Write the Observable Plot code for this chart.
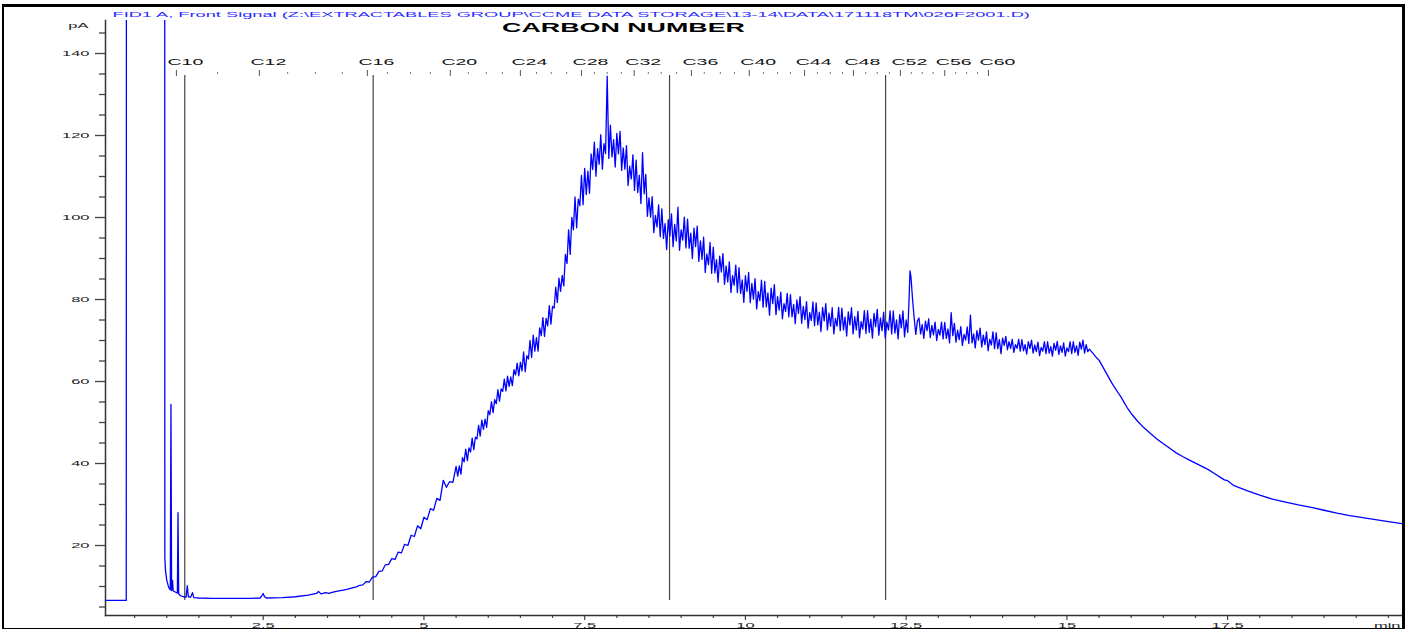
<!DOCTYPE html>
<html><head><meta charset="utf-8">
<script src="https://cdn.jsdelivr.net/npm/d3@7"></script>
<script src="https://cdn.jsdelivr.net/npm/@observablehq/plot@0.6"></script>
<style>
html,body{margin:0;padding:0;background:#fff;}
#wrap{position:relative;width:1408px;height:629px;overflow:hidden;background:#fff;}
#chart svg{display:block;}
#border{position:absolute;left:2px;top:4px;width:1403px;height:627px;box-sizing:border-box;border-style:solid;border-color:#000;border-width:3px 3px 3px 2px;pointer-events:none;}
</style></head><body>
<div id="wrap"><div id="chart"></div><div id="border"></div></div>
<script>
// ---- Data (minutes, pA) ----
const headerText = "FID1 A, Front Signal (Z:\\EXTRACTABLES GROUP\\CCME DATA STORAGE\\13-14\\DATA\\171118TM\\026F2001.D)";
const titleText = "CARBON NUMBER";
const yUnit = "pA";
const xUnit = "min";

const solventFront = [[0.05,6.6],[0.37,6.6],[0.375,400],[0.965,400],[0.97,17],[0.98,14],[1.0,11.5],[1.03,9.8],[1.055,9.2],[1.065,54.4],[1.075,9.0],[1.09,11.5],[1.10,8.9],[1.14,8.6],[1.165,8.4],[1.175,28],[1.185,8.2],[1.21,7.8],[1.26,7.5],[1.30,7.4],[1.32,10.2],[1.335,7.5],[1.37,7.4],[1.40,8.5],[1.42,7.3]];

const baseline = [[1.5,7.2],[1.7,7.1],[2.0,7.1],[2.3,7.1],[2.45,7.2],[2.48,7.8],[2.50,8.3],[2.52,7.5],[2.55,7.2],[2.8,7.3],[3.0,7.5],[3.2,7.9],[3.33,8.3],[3.36,8.8],[3.40,8.2],[3.47,8.5],[3.52,8.3],[3.6,8.7],[3.7,9.0],[3.8,9.3],[3.9,9.7],[3.95,9.9]];

const humpRise = [[4.00,10.3],[4.05,10.4],[4.10,11.2],[4.15,11.1],[4.20,12.3],[4.25,12.4],[4.30,13.7],[4.35,13.8],[4.40,15.3],[4.45,15.4],[4.50,16.8],[4.55,16.6],[4.60,18.4],[4.65,18.2],[4.70,20.3],[4.75,20.0],[4.80,22.5],[4.85,22.2],[4.90,24.8],[4.95,24.1],[5.00,26.9],[5.05,26.3],[5.10,29.0],[5.15,28.6],[5.20,31.5],[5.25,31.0],[5.30,35.9],[5.35,34.2],[5.40,35.6],[5.45,35.4],
[5.500,39.3],[5.525,36.9],[5.550,39.4],[5.575,37.4],[5.600,41.4],[5.625,40.4],[5.650,43.5],[5.675,40.7],[5.700,43.8],[5.725,42.8],[5.750,46.2],[5.775,43.4],[5.800,46.4],[5.825,46.0],[5.850,49.3],[5.875,46.7],[5.900,50.6],[5.925,48.3],[5.950,50.8],[5.975,48.8],[6.000,52.9],[6.025,51.9],[6.050,55.1],[6.075,52.4],[6.100,55.6],[6.125,54.6],[6.150,58.0],[6.175,55.2],[6.200,58.2],[6.225,57.6],[6.250,60.6],[6.275,57.7],[6.300,61.3],[6.325,58.8],[6.350,61.1],[6.375,59.0],[6.400,62.9],[6.425,61.6],[6.450,64.5],[6.475,61.4],[6.500,64.7],[6.525,62.6],[6.550,67.2],[6.575,62.4],[6.600,66.3],[6.625,65.5],[6.650,70.0],[6.675,65.9],[6.700,71.3],[6.725,67.4],[6.750,70.7],[6.775,67.4],[6.800,73.1],[6.825,71.2],[6.850,75.6],[6.875,71.0],[6.900,75.4],[6.925,73.6],[6.950,78.5],[6.975,74.0],[7.000,78.3],[7.025,77.9],[7.050,83.0],[7.075,79.3],[7.100,85.2],[7.125,82.0],[7.150,85.9],[7.175,83.3]];

const humpPeak = [[7.200,91.0],[7.225,88.8],[7.250,97.0],[7.275,91.0],[7.300,100.0],[7.325,97.0],[7.350,105.0],[7.375,97.5],[7.400,104.5],[7.425,102.9],[7.450,110.3],[7.475,103.1],[7.500,112.0],[7.525,105.6],[7.550,111.3],[7.575,105.9],[7.600,115.5],[7.625,111.7],[7.650,118.4],[7.675,110.1],[7.700,116.8],[7.725,113.0],[7.750,120.2],[7.775,111.8],[7.800,118.0],[7.825,115.6],[7.850,134.5],[7.875,114.4],[7.900,122.5],[7.925,114.8],[7.950,119.0],[7.975,112.3],[8.000,120.5],[8.025,115.5],[8.050,121.0],[8.075,111.5],[8.100,117.0],[8.125,111.8],[8.150,117.5],[8.175,107.8],[8.200,112.5],[8.225,109.4],[8.250,115.3],[8.275,106.6],[8.300,114.0],[8.325,106.1],[8.350,110.3],[8.375,103.4],[8.400,115.8],[8.425,105.8],[8.450,110.5],[8.475,100.3],[8.500,104.8],[8.525,100.1],[8.550,105.1],[8.575,96.3],[8.600,100.5],[8.625,97.7],[8.650,103.1],[8.675,95.3],[8.700,102.1],[8.725,94.9],[8.750,98.5],[8.775,92.2],[8.800,99.5],[8.825,95.5],[8.850,100.9],[8.875,92.9],[8.900,98.3],[8.925,94.3],[8.950,102.5],[8.975,92.0]];

const humpDecay = [[9.000,97.0],[9.025,94.5],[9.050,100.1],[9.075,92.6],[9.100,99.6],[9.125,92.5],[9.150,96.2],[9.175,90.0],[9.200,97.4],[9.225,92.9],[9.250,97.9],[9.275,89.3],[9.300,94.3],[9.325,89.8],[9.350,95.2],[9.375,86.6],[9.400,91.1],[9.425,88.5],[9.450,93.9],[9.475,86.4],[9.500,92.8],[9.525,86.5],[9.550,89.7],[9.575,84.2],[9.600,90.6],[9.625,86.7],[9.650,91.2],[9.675,83.7],[9.700,88.2],[9.725,84.3],[9.750,89.2],[9.775,81.7],[9.800,85.8],[9.825,83.5],[9.850,88.4],[9.875,81.7],[9.900,87.8],[9.925,81.5],[9.950,84.8],[9.975,79.3],[10.000,85.8],[10.025,82.0],[10.050,86.6],[10.075,79.2],[10.100,83.9],[10.125,80.1],[10.150,85.1],[10.175,77.7],[10.200,81.9],[10.225,79.7],[10.250,84.7],[10.275,78.1],[10.300,84.4],[10.325,78.2],[10.350,81.6],[10.375,76.2],[10.400,82.8],[10.425,79.0],[10.450,83.6],[10.475,76.3],[10.500,80.7],[10.525,77.4],[10.550,81.8],[10.575,75.3],[10.600,79.0],[10.625,77.1],[10.650,81.5],[10.675,75.8],[10.700,81.2],[10.725,75.8],[10.750,78.8],[10.775,74.1],[10.800,79.9],[10.825,76.6],[10.850,80.7],[10.875,74.2],[10.900,78.3],[10.925,75.1],[10.950,79.5],[10.975,73.0],[11.000,76.8],[11.025,74.9],[11.050,79.4],[11.075,73.6],[11.100,79.2],[11.125,73.8],[11.150,76.9],[11.175,72.2],[11.200,78.1],[11.225,74.8],[11.250,79.0],[11.275,72.6],[11.300,76.7],[11.325,73.5],[11.350,78.0],[11.375,71.6],[11.400,75.4],[11.425,73.5],[11.450,78.1],[11.475,72.4],[11.500,77.9],[11.525,72.6],[11.550,75.7],[11.575,71.1],[11.600,77.0],[11.625,73.8],[11.650,78.0],[11.675,71.6],[11.700,75.8],[11.725,72.6],[11.750,77.1],[11.775,70.7],[11.800,74.6],[11.825,72.8],[11.850,77.3],[11.875,71.7],[11.900,77.3],[11.925,72.0],[11.950,75.2],[11.975,70.6],[12.000,76.6],[12.025,73.4],[12.050,77.6],[12.075,71.3],[12.100,75.5],[12.125,72.4],[12.150,76.9],[12.175,70.6],[12.200,74.5],[12.225,72.6],[12.250,77.2],[12.275,71.6],[12.300,77.2],[12.325,71.8],[12.350,75.0],[12.375,70.4],[12.400,76.3],[12.425,73.1],[12.450,77.2],[12.475,70.9],[12.500,75.0]];

const plateau = [[12.525,72.0],[12.545,80.0],[12.560,87.0],[12.575,85.5],[12.600,80.0],[12.625,75.5],[12.650,71.5],[12.675,74.8],
[12.700,75.5],[12.725,71.6],[12.750,73.9],[12.775,70.5],[12.800,74.7],[12.825,72.4],[12.850,75.3],[12.875,70.7],[12.900,73.7],[12.925,71.4],[12.950,74.5],[12.975,70.0],[13.000,72.7],[13.025,71.3],[13.050,74.5],[13.075,70.4],[13.100,74.4],[13.125,70.5],[13.150,72.8],[13.175,69.4],[13.200,76.8],[13.225,71.2],[13.250,74.2],[13.275,69.6],[13.300,72.5],[13.325,70.2],[13.350,73.4],[13.375,68.8],[13.400,71.5],[13.425,70.1],[13.450,73.3],[13.475,69.3],[13.500,76.2],[13.525,69.4],[13.550,71.6],[13.575,68.2],[13.600,72.4],[13.625,70.1],[13.650,73.0],[13.675,68.4],[13.700,71.3],[13.725,69.0],[13.750,72.1],[13.775,67.5],[13.800,70.3],[13.825,68.9],[13.850,72.1],[13.875,68.0],[13.900,71.9],[13.925,68.0],[13.950,70.2],[13.975,66.8],[14.000,70.6],[14.025,68.8],[14.050,71.0],[14.075,67.7],[14.100,69.7],[14.125,68.1],[14.150,70.3],[14.175,67.1],[14.200,69.0],[14.225,68.1],[14.250,70.3],[14.275,67.4],[14.300,70.2],[14.325,67.5],[14.350,69.0],[14.375,66.7],[14.400,69.7],[14.425,68.0],[14.450,70.1],[14.475,66.9],[14.500,68.9],[14.525,67.3],[14.550,69.6],[14.575,66.3],[14.600,68.3],[14.625,67.4],[14.650,69.7],[14.675,66.8],[14.700,69.7],[14.725,66.9],[14.750,68.5],[14.775,66.2],[14.800,69.3],[14.825,67.6],[14.850,69.8],[14.875,66.6],[14.900,68.7],[14.925,67.1],[14.950,69.4],[14.975,66.2],[15.000,68.2],[15.025,67.3],[15.050,69.7],[15.075,66.8],[15.100,69.7],[15.125,67.1],[15.150,68.7],[15.175,66.4],[15.200,69.6],[15.225,67.9],[15.250,70.1],[15.275,66.9],[15.300,69.0],[15.325,67.3],[15.350,67.9]];

const tail = [[15.40,67.0],[15.45,66.0],[15.50,65.2],[15.55,63.8],[15.60,62.4],[15.65,61.0],[15.70,59.6],[15.75,58.4],[15.80,57.2],[15.85,56.0],[15.90,54.6],[15.95,53.3],[16.00,52.2],[16.10,50.3],[16.20,48.7],[16.30,47.3],[16.40,46.0],[16.50,44.8],[16.60,43.7],[16.70,42.6],[16.80,41.7],[16.90,40.9],[17.00,40.1],[17.10,39.3],[17.20,38.5],[17.30,37.5],[17.40,36.5],[17.45,36.0],[17.50,35.8],[17.60,34.6],[17.80,33.4],[18.00,32.3],[18.20,31.3],[18.40,30.6],[18.60,29.9],[18.80,29.3],[19.00,28.6],[19.20,27.9],[19.40,27.3],[19.60,26.8],[19.80,26.3],[20.00,25.8],[20.22,25.3]];

// carbon-number retention-time markers
const carbonNumbers = [10,11,12,13,14,15,16,17,18,19,20,21,22,23,24,25,26,27,28,29,30,31,32,33,34,35,36,37,38,39,40,41,42,43,44,45,46,47,48,49,50,51,52,53,54,55,56,57,58,59,60];
const carbonTimes = [1.15,1.79,2.44,2.88,3.31,3.73,4.12,4.43,4.79,5.10,5.41,5.69,5.97,6.22,6.50,6.75,6.98,7.22,7.45,7.65,7.85,8.07,8.27,8.49,8.69,8.93,9.16,9.36,9.61,9.83,10.06,10.28,10.50,10.70,10.92,11.12,11.32,11.51,11.68,11.87,12.05,12.24,12.41,12.58,12.75,12.92,13.10,13.27,13.44,13.61,13.78];
const labeledCarbons = [10,12,16,20,24,28,32,36,40,44,48,52,56,60];
const markerTimes = [1.28,4.21,8.82,12.18];

// axes
const xDomain = [0.047, 20.22];
const yDomain = [2.93, 148.05];
const xMajorTicks = [2.5,5,7.5,10,12.5,15,17.5];
const xMinorTicks = [0.5,1,1.5,2,3,3.5,4,4.5,5.5,6,6.5,7,8,8.5,9,9.5,10.5,11,11.5,12,13,13.5,14,14.5,15.5,16,16.5,17,18,18.5,19,19.5,20];
const yMajorTicks = [20,40,60,80,100,120,140];
const yMinorTicks = [5,10,15,25,30,35,45,50,55,65,70,75,85,90,95,105,110,115,125,130,135,145];

// ---- build ----
const signal = [...solventFront, ...baseline, ...humpRise, ...humpPeak, ...humpDecay, ...plateau, ...tail].map(([t, v]) => ({t, v}));
const carbons = carbonNumbers.map((n, i) => ({n, t: carbonTimes[i], name: "C" + n, major: labeledCarbons.includes(n)}));

const plot = Plot.plot({
  width: 1408, height: 629,
  marginLeft: 105, marginRight: 6, marginTop: 20, marginBottom: 14,
  style: {background: "#fff", fontFamily: "'Liberation Sans', Arial, sans-serif", color: "#222"},
  x: {domain: xDomain, label: null},
  y: {domain: yDomain, label: null},
  marks: [
    Plot.axisY({ticks: yMajorTicks, tickSize: 10, tickPadding: 6, tickFormat: d => String(d), fontSize: 7.5, label: null, stroke: "#444", fill: "#222", strokeWidth: 1.3}),
    Plot.axisY({ticks: yMinorTicks, tickSize: 6, tickFormat: () => "", label: null, stroke: "#444", strokeWidth: 1.3}),
    Plot.axisX({ticks: xMajorTicks, tickSize: 5, tickPadding: 2, tickFormat: d => String(d), fontSize: 7.5, label: null, stroke: "#444", fill: "#222", strokeWidth: 1.2}),
    Plot.axisX({ticks: xMinorTicks, tickSize: 3, tickFormat: () => "", label: null, stroke: "#444", strokeWidth: 1.2}),
    Plot.frame({anchor: "left", stroke: "#333", strokeWidth: 1.5}),
    Plot.frame({anchor: "bottom", stroke: "#333", strokeWidth: 1.5}),
    Plot.tickX(markerTimes, {insetTop: 55, insetBottom: 15, stroke: "#444", strokeWidth: 1.2}),
    Plot.tickX(carbons.filter(d => d.major), {x: "t", insetTop: 50, insetBottom: 539, stroke: "#555"}),
    Plot.tickX(carbons.filter(d => !d.major), {x: "t", insetTop: 52, insetBottom: 541, stroke: "#777"}),
    Plot.text(carbons.filter(d => d.major), {x: "t", text: "name", frameAnchor: "top", dy: 38.5, dx: 9, fontSize: 8.5, fill: "#111"}),
    Plot.line(signal, {x: "t", y: "v", stroke: "#0000ff", strokeWidth: 1.3, clip: true}),
    Plot.text([headerText], {text: d => d, frameAnchor: "top-left", textAnchor: "start", dx: 7, dy: -9, fontSize: 8, fill: "#2a2aff"}),
    Plot.text([titleText], {text: d => d, frameAnchor: "top-left", textAnchor: "middle", dx: 518, dy: 2.5, fontSize: 12.5, fontWeight: "bold", fill: "#000"}),
    Plot.text([yUnit], {text: d => d, frameAnchor: "top-left", textAnchor: "end", dx: -17, dy: 2, fontSize: 7.5, fill: "#222"}),
    Plot.text([xUnit], {text: d => d, frameAnchor: "bottom-right", textAnchor: "end", lineAnchor: "top", dx: -2, dy: 7, fontSize: 7.5, fill: "#222"})
  ]
});

document.getElementById("chart").append(plot);

// horizontally stretched lettering, as in the instrument printout
const targets = {[headerText]: 918, [titleText]: 243};
plot.querySelectorAll("text").forEach(el => {
  const s = el.textContent;
  if (!s) return;
  let k;
  if (targets[s]) k = targets[s] / el.getComputedTextLength();
  else if (/^C\d+$/.test(s)) k = 2.3;
  else k = 2.2;
  if (!isFinite(k) || k <= 0) k = 2.2;
  let tr = el.getAttribute("transform") || "";
  const x = el.getAttribute("x");
  if (x != null && !isNaN(+x)) { tr += ` translate(${x},0)`; el.removeAttribute("x"); }
  el.setAttribute("transform", `${tr} scale(${k},1)`);
});
</script>
</body></html>
